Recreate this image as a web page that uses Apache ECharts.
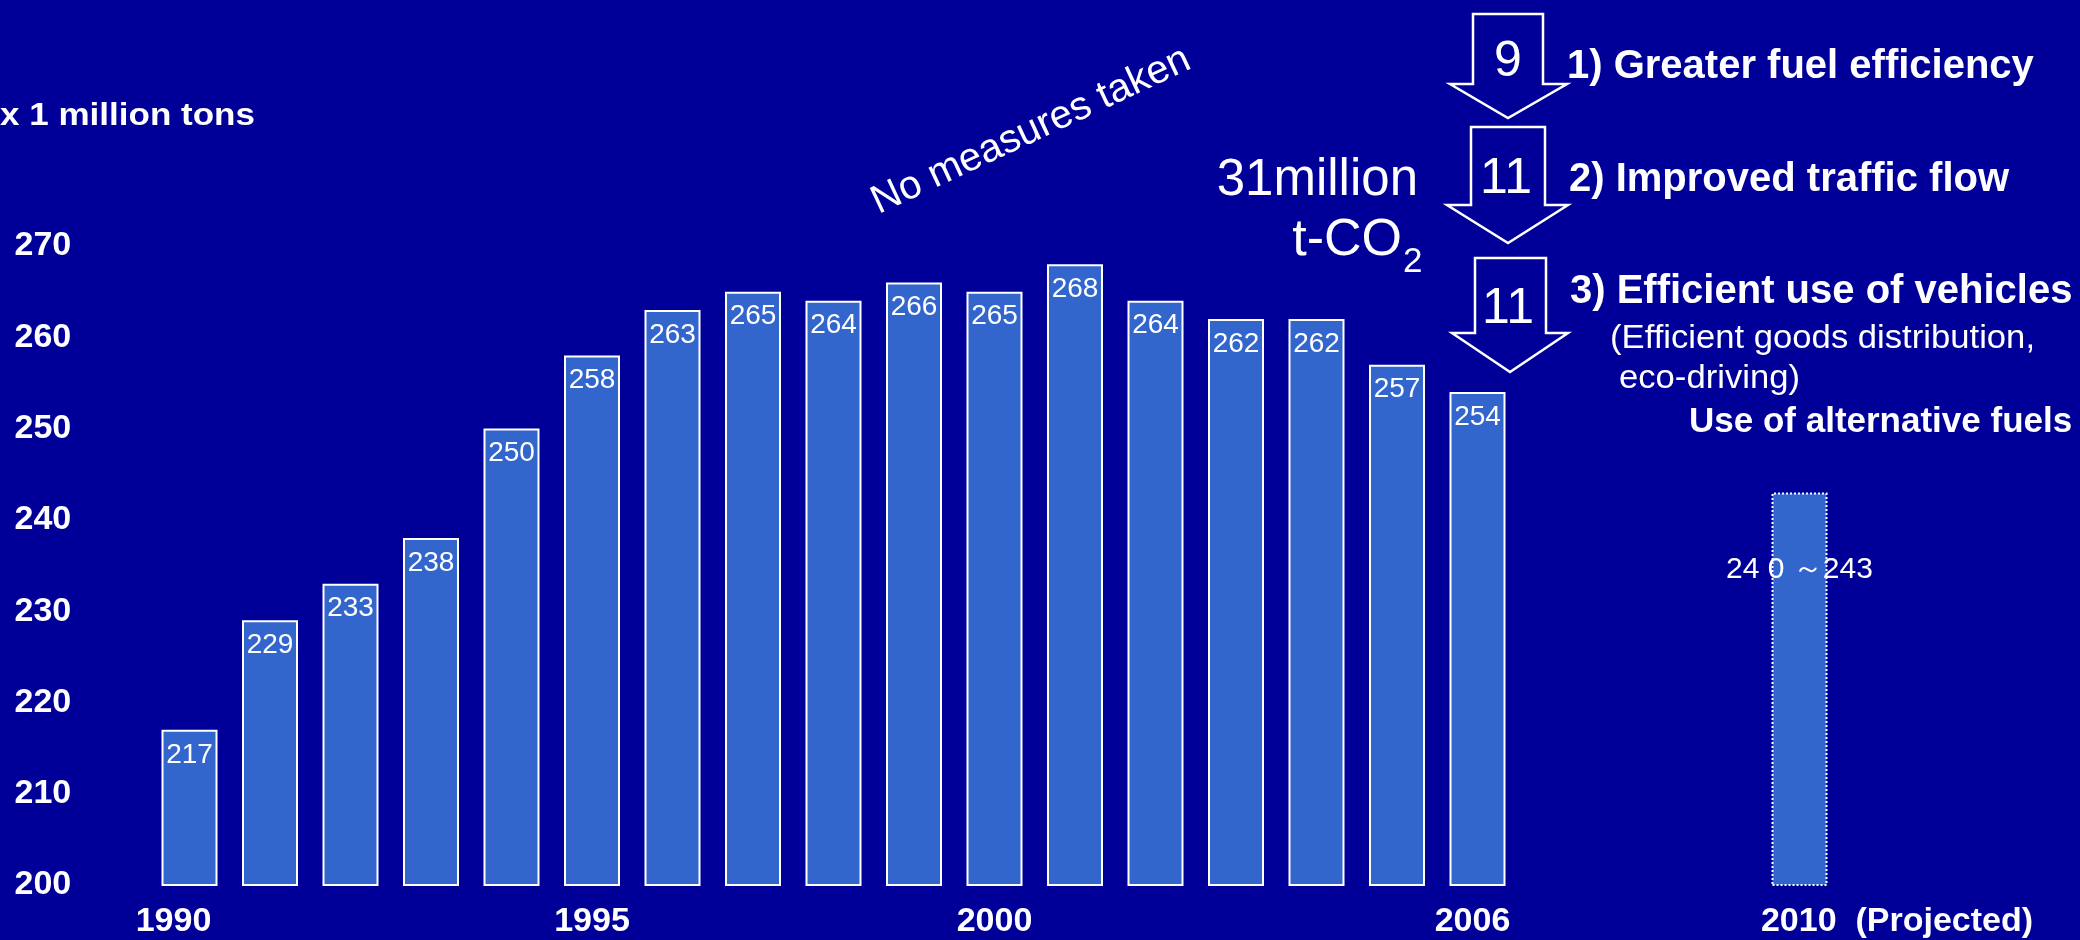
<!DOCTYPE html>
<html>
<head>
<meta charset="utf-8">
<title>CO2 emissions from transport</title>
<script src="https://cdn.jsdelivr.net/npm/echarts@6/dist/echarts.min.js"></script>
<style>
  html, body { margin: 0; padding: 0; background: #000099; }
  #chart { width: 2080px; height: 940px; }
</style>
</head>
<body>
<div id="chart"></div>
<script>
// Fiscal years on the category axis (2007-2009 are empty slots)
const years = ['1990','1991','1992','1993','1994','1995','1996','1997','1998','1999',
               '2000','2001','2002','2003','2004','2005','2006','2007','2008','2009','2010'];
// Recorded emissions, x 1 million tons, 1990-2006
const emissions = [217, 229, 233, 238, 250, 258, 263, 265, 264, 266, 265, 268, 264, 262, 262, 257, 254];
// 2010 projection (upper end of the range) and its label
const projectedYear = '2010';
const projectedValue = 243;
const projectedLabel = '24 0 ～243';
// Years that carry an axis label
const labelledYears = ['1990', '1995', '2000', '2006', '2010'];
// Value axis range
const yMin = 200, yMax = 270, yStep = 10;

const FONT = '"Liberation Sans", Arial, Helvetica, sans-serif';
const WHITE = '#ffffff';
const BAR = '#3366cc';

const actualData = years.map((y, i) => i < emissions.length ? emissions[i] : '-');
const projectedData = years.map(y => y === projectedYear ? projectedValue : '-');

const xLabelBase = { fontFamily: FONT, fontSize: 34, fontWeight: 'bold', color: WHITE };

const chart = echarts.init(document.getElementById('chart'), null, { renderer: 'canvas' });

// arrow outline: shaft from top to shaftBottom, head out to the wings and down to the tip
function arrow(l, r, top, shaftBottom, wl, wr, tipX, tipY) {
  return {
    type: 'polygon',
    shape: { points: [[l, top], [r, top], [r, shaftBottom], [wr, shaftBottom], [tipX, tipY], [wl, shaftBottom], [l, shaftBottom]] },
    style: { fill: '#000099', stroke: WHITE, lineWidth: 2.5 },
    z: 10
  };
}
function txt(x, y, text, size, opts) {
  return Object.assign({
    type: 'text', x: x, y: y, z: 11,
    style: Object.assign({
      text: text, fill: WHITE, fontFamily: FONT, fontSize: size,
      align: 'left', verticalAlign: 'middle'
    }, (opts && opts.style) || {})
  }, (opts && opts.el) || {});
}

chart.setOption({
  backgroundColor: '#000099',
  animation: false,
  grid: { left: 149.25, right: 240.25, top: 246, bottom: 55, containLabel: false, outerBoundsMode: 'none' },
  xAxis: {
    type: 'category',
    data: years,
    axisLine: { show: false },
    axisTick: { show: false },
    splitLine: { show: false },
    axisLabel: {
      interval: (idx, v) => labelledYears.includes(v),
      margin: 37,
      verticalAlign: 'middle',
      formatter: v => {
        if (v === '1990') return '{a|' + v + '}';
        if (v === '2006') return '{b|' + v + '}';
        if (v === projectedYear) return '{p|' + v + '  (Projected)}';
        return '{n|' + v + '}';
      },
      rich: {
        n: Object.assign({}, xLabelBase),
        a: Object.assign({ padding: [0, 32, 0, 0] }, xLabelBase),
        b: Object.assign({ padding: [0, 10, 0, 0] }, xLabelBase),
        p: Object.assign({ padding: [0, 0, 0, 195] }, xLabelBase)
      }
    }
  },
  yAxis: {
    type: 'value',
    min: yMin, max: yMax, interval: yStep,
    axisLine: { show: false },
    axisTick: { show: false },
    splitLine: { show: false },
    axisLabel: {
      color: WHITE, fontFamily: FONT, fontSize: 34, fontWeight: 'bold',
      margin: 78, align: 'right'
    }
  },
  series: [
    {
      name: 'Emissions',
      type: 'bar',
      data: actualData,
      barWidth: 56,
      barGap: '-100%',
      itemStyle: { color: BAR, borderColor: WHITE, borderWidth: 2 },
      label: {
        show: true, position: 'insideTop', distance: 11,
        color: WHITE, fontFamily: FONT, fontSize: 28,
        formatter: '{c}'
      }
    },
    {
      name: 'Projected',
      type: 'bar',
      data: projectedData,
      barWidth: 56,
      barGap: '-100%',
      itemStyle: { color: BAR, borderColor: WHITE, borderWidth: 2, borderType: 'dotted' },
      label: {
        show: true, position: 'insideTop', distance: 62,
        color: WHITE, fontFamily: FONT, fontSize: 30,
        formatter: projectedLabel
      }
    }
  ],
  graphic: [
    // unit
    txt(0, 116, 'x 1 million tons', 31, { style: { fontWeight: 'bold' }, el: { scaleX: 1.13 } }),
    // trend annotation
    txt(1031, 131, 'No measures taken', 40, { style: { align: 'center' }, el: { rotation: 25 * Math.PI / 180 } }),
    // total reduction
    txt(1418, 181, '31million', 51, { style: { align: 'right' } }),
    txt(1402, 241, 't-CO', 52, { style: { align: 'right' } }),
    txt(1403, 262.5, '2', 35),
    // reduction arrows
    arrow(1473, 1543, 14, 84, 1450, 1567, 1508, 118),
    arrow(1471, 1545, 127, 205, 1447, 1568, 1508, 243),
    arrow(1475, 1546, 258, 333, 1452, 1568, 1510, 372),
    txt(1508, 62.5, '9', 50, { style: { align: 'center' } }),
    txt(1506, 179, '11', 50, { style: { align: 'center' } }),
    txt(1508, 309, '11', 50, { style: { align: 'center' } }),
    // measures
    txt(1567, 67, '1) Greater fuel efficiency', 40, { style: { fontWeight: 'bold' } }),
    txt(1569, 180, '2) Improved traffic flow', 40, { style: { fontWeight: 'bold' } }),
    txt(1570, 292, '3) Efficient use of vehicles', 40, { style: { fontWeight: 'bold' } }),
    txt(1610, 338.5, '(Efficient goods distribution,', 33, { el: { scaleX: 1.05 } }),
    txt(1619, 378.5, 'eco-driving)', 33, { el: { scaleX: 1.05 } }),
    txt(1689, 422.5, 'Use of alternative fuels', 35, { style: { fontWeight: 'bold' } })
  ]
});
</script>
</body>
</html>
